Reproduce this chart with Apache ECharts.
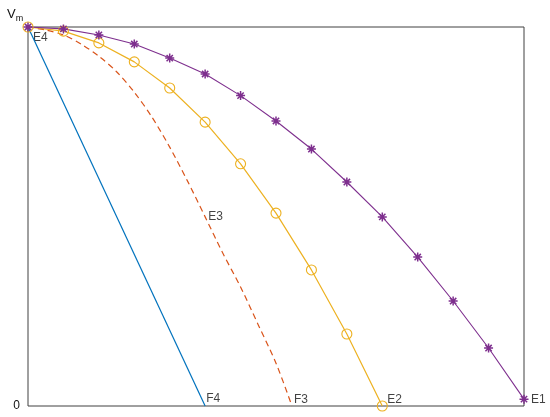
<!DOCTYPE html>
<html><head><meta charset="utf-8">
<script src="https://cdn.jsdelivr.net/npm/echarts@6/dist/echarts.min.js"></script>
<style>html,body{margin:0;padding:0;background:#fff}#c{width:550px;height:417px}</style>
</head><body><div id="c"></div>
<script>
// Data (x in arbitrary units, y as % of Vm)
const purpleX = [0,1,2,3,4,5,6,7,8,9,10,11,12,13,14];
const purpleY = [100,99.5,97.9,95.5,91.8,87.6,81.9,75.2,67.8,59.1,49.9,39.3,27.7,15.3,1.8];
const yellowX = [0,1,2,3,4,5,6,7,8,9,10];
const yellowY = [100,98.9,95.8,90.8,83.9,74.9,63.9,50.9,35.9,19.0,0];
const dashedX = [0,0.5,1,1.5,2,2.5,3,3.5,4,4.5,5,5.5,6,6.5,7,7.45];
const dashedY = [100,99.2,97.9,95.5,92.3,88.2,82.8,76.2,68.3,59.4,49.9,40.3,31.4,21.4,11.3,0];
const blueX = [0,5];
const blueY = [100,0];
const labelNames = ['E1','E2','F3','F4','E3','E4'];
const labelX = [14,10,7.45,5,5,0];
const labelY = [1.8,0,0,0,49.9,100];
const labelStyles = [
  {position:'right',distance:7,offset:[0,1]},
  {position:'right',distance:5,offset:[0,-6]},
  {position:'right',distance:2,offset:[0,-6]},
  {position:'right',distance:1,offset:[0,-7]},
  {position:'right',distance:3,offset:[0,0]},
  {position:'right',distance:5,offset:[0,11]}
];
const yTicks = {0:'0'};

const zip = (xs, ys) => xs.map((x,i)=>[x, ys[i]]);
const font = 'Liberation Sans, Arial, Helvetica, sans-serif';
const asterisk = 'path://M0,-1L0,1M-1,0L1,0M-0.7,-0.7L0.7,0.7M-0.7,0.7L0.7,-0.7';

const chart = echarts.init(document.getElementById('c'), null, {renderer:'canvas'});
chart.setOption({
  animation:false,
  backgroundColor:'#fff',
  grid:{left:28, top:27, right:26, bottom:11, show:true, borderColor:'#404040', borderWidth:1, backgroundColor:'transparent'},
  xAxis:{type:'value', min:0, max:14, axisLine:{show:false}, axisTick:{show:false}, axisLabel:{show:false}, splitLine:{show:false}},
  yAxis:{type:'value', min:0, max:100, interval:100,
    axisLine:{show:false}, axisTick:{show:false}, splitLine:{show:false},
    axisLabel:{margin:8, color:'#111', fontFamily:font, fontSize:12,
      formatter:v => yTicks[v] !== undefined ? yTicks[v] : ''}},
  graphic:[{type:'text', left:7, top:8, style:{text:'{v|V}{s|m}', fontFamily:font,
    rich:{v:{fontSize:13, fill:'#111', fontFamily:font}, s:{fontSize:9, fill:'#111', fontFamily:font, padding:[9,0,0,0]}}}}],
  series:[
    {type:'line', data:zip(blueX, blueY), showSymbol:false, clip:false,
      lineStyle:{color:'#0072BD', width:1.2}},
    {type:'line', data:zip(dashedX, dashedY), showSymbol:false, smooth:0.3, clip:false,
      lineStyle:{color:'#D95319', width:1.2, type:[6,4]}},
    {type:'line', data:zip(yellowX, yellowY), symbol:'circle', symbolSize:10, clip:false,
      lineStyle:{color:'#EDB120', width:1.2},
      itemStyle:{color:'rgba(0,0,0,0)', borderColor:'#EDB120', borderWidth:1.1}},
    {type:'line', data:zip(purpleX, purpleY), symbol:asterisk, symbolSize:9, clip:false,
      lineStyle:{color:'#7E2F8E', width:1.1},
      itemStyle:{color:'rgba(0,0,0,0)', borderColor:'#7E2F8E', borderWidth:1.5}},
    {type:'scatter', symbolSize:0, clip:false, silent:true,
      data:labelNames.map((n,i)=>({value:[labelX[i], labelY[i]], name:n,
        label:Object.assign({show:true, formatter:n, color:'#111', fontFamily:font, fontSize:12}, labelStyles[i])}))}
  ]
});
</script></body></html>
